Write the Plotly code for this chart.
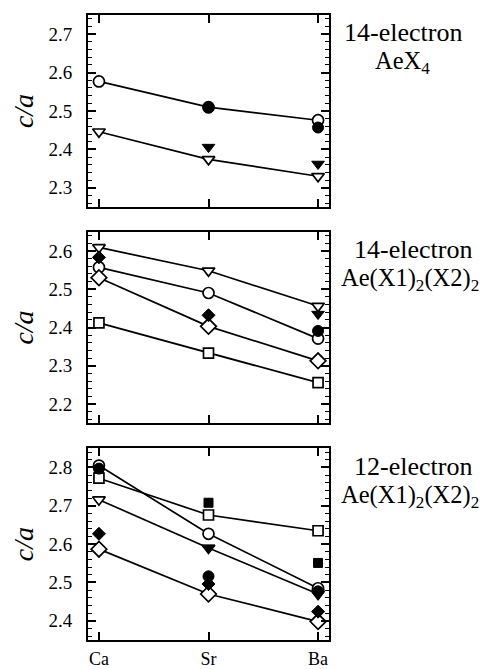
import plotly.graph_objects as go

# ---------------- data ----------------
elements = ["Ca", "Sr", "Ba"]
xpos = [0, 1, 2]

# Panel 1: 14-electron AeX4
top_open_circle = [2.577, 2.510, 2.476]
top_filled_circle = [None, 2.509, 2.457]
top_open_tri = [2.446, 2.374, 2.330]
top_filled_tri = [None, 2.406, 2.362]

# Panel 2: 14-electron Ae(X1)2(X2)2
mid_open_tri = [2.609, 2.548, 2.456]
mid_filled_tri = [None, None, 2.435]
mid_open_circle = [2.557, 2.490, 2.371]
mid_filled_circle = [None, None, 2.391]
mid_open_diamond = [2.530, 2.403, 2.313]
mid_filled_diamond = [2.583, 2.432, None]
mid_open_square = [2.412, 2.333, 2.256]

# Panel 3: 12-electron Ae(X1)2(X2)2
bot_open_circle = [2.805, 2.627, 2.485]
bot_filled_circle = [2.797, 2.516, 2.477]
bot_open_square = [2.772, 2.676, 2.635]
bot_filled_square = [2.788, 2.708, 2.551]
bot_open_tri = [2.716, 2.590, 2.470]
bot_filled_tri = [None, 2.590, 2.474]
bot_open_diamond = [2.587, 2.470, 2.398]
bot_filled_diamond = [2.627, 2.496, 2.424]

panel_line1 = ["14-electron", "14-electron", "12-electron"]
panel_line2 = ["AeX<sub>4</sub>",
               "Ae(X1)<sub>2</sub>(X2)<sub>2</sub>",
               "Ae(X1)<sub>2</sub>(X2)<sub>2</sub>"]
y_ranges = [[2.25, 2.75], [2.15, 2.65], [2.35, 2.85]]

# ---------------- layout geometry ----------------
W, H = 489, 669
OFF = 8  # page body margin offset
def py(px):
    return 1 - (px - OFF) / H
def pxx(px):
    return (px - OFF) / W

panel_px = [(15, 207), (231.7, 423.3), (448.3, 640)]
x_dom = [pxx(88), pxx(329)]

FONT = "Liberation Serif"

sym_map = {"circle": "circle", "tri": "triangle-down", "diamond": "diamond", "square": "square"}
size_open = {"circle": 11, "tri": 11, "diamond": 12, "square": 10}
size_fill = {"circle": 11, "tri": 11, "diamond": 10, "square": 9}

fig = go.Figure()

def open_series(vals, kind, axis):
    fig.add_trace(go.Scatter(
        x=xpos, y=vals, mode="lines+markers",
        line=dict(color="black", width=1.7),
        marker=dict(symbol=sym_map[kind], size=size_open[kind], color="white",
                    line=dict(color="black", width=1.7)),
        xaxis="x" + axis, yaxis="y" + axis, showlegend=False, cliponaxis=False))

def filled_series(vals, kind, axis):
    fig.add_trace(go.Scatter(
        x=xpos, y=vals, mode="markers",
        marker=dict(symbol=sym_map[kind], size=size_fill[kind], color="black",
                    line=dict(color="black", width=1)),
        xaxis="x" + axis, yaxis="y" + axis, showlegend=False, cliponaxis=False))

# panel 1 (axis suffix "")
open_series(top_open_circle, "circle", "")
open_series(top_open_tri, "tri", "")
filled_series(top_filled_circle, "circle", "")
filled_series(top_filled_tri, "tri", "")

# panel 2
open_series(mid_open_tri, "tri", "2")
open_series(mid_open_circle, "circle", "2")
open_series(mid_open_diamond, "diamond", "2")
open_series(mid_open_square, "square", "2")
filled_series(mid_filled_tri, "tri", "2")
filled_series(mid_filled_circle, "circle", "2")
filled_series(mid_filled_diamond, "diamond", "2")

# panel 3
filled_series(bot_filled_square, "square", "3")
open_series(bot_open_square, "square", "3")
open_series(bot_open_circle, "circle", "3")
open_series(bot_open_tri, "tri", "3")
open_series(bot_open_diamond, "diamond", "3")
filled_series(bot_filled_circle, "circle", "3")
filled_series(bot_filled_tri, "tri", "3")
filled_series(bot_filled_diamond, "diamond", "3")

layout = dict(width=W, height=H,
              margin=dict(l=0, r=0, t=0, b=0, autoexpand=False),
              plot_bgcolor="white", paper_bgcolor="white", showlegend=False,
              font=dict(family=FONT, color="black", size=18))

annotations = []
for i in range(3):
    sfx = "" if i == 0 else str(i + 1)
    top_px, bot_px = panel_px[i]
    layout["xaxis" + sfx] = dict(
        domain=x_dom, range=[-0.1, 2.1], anchor="y" + sfx, automargin=False,
        tickvals=xpos, ticktext=elements, showticklabels=(i == 2),
        ticks="inside", ticklen=8, tickwidth=1.5, tickcolor="black",
        showline=True, linecolor="black", linewidth=2, mirror="ticks",
        showgrid=False, zeroline=False, ticklabelstandoff=1,
        tickfont=dict(family=FONT, size=18, color="black"))
    layout["yaxis" + sfx] = dict(
        domain=[py(bot_px), py(top_px)], range=y_ranges[i], anchor="x" + sfx,
        automargin=False,
        dtick=0.1, tick0=0, ticks="inside", ticklen=8, tickwidth=1.5, tickcolor="black",
        minor=dict(dtick=0.02, tick0=0, ticks="inside", ticklen=4, tickwidth=1.2,
                   tickcolor="black"),
        showline=True, linecolor="black", linewidth=2, mirror="ticks",
        showgrid=False, zeroline=False, tickformat=".1f", ticklabelstandoff=10,
        tickfont=dict(family=FONT, size=19, color="black"),
        title=dict(text="<i>c/a</i>", font=dict(family=FONT, size=28, color="black"),
                   standoff=12))
    annotations.append(dict(
        xref="paper", yref="paper", x=pxx(403 if i == 0 else 413), y=py(top_px + 18),
        xanchor="center", yanchor="middle", showarrow=False, align="center",
        text=panel_line1[i], font=dict(family=FONT, size=26, color="black")))
    annotations.append(dict(
        xref="paper", yref="paper", x=pxx(402 if i == 0 else 410), y=py(top_px + 48),
        xanchor="center", yanchor="middle", showarrow=False, align="center",
        text=panel_line2[i], font=dict(family=FONT, size=24.5, color="black")))

layout["annotations"] = annotations
fig.update_layout(**layout)

fig.write_html("out.html")
